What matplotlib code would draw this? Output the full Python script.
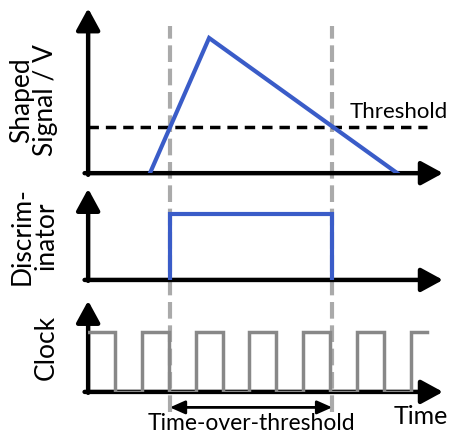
import numpy as np
import matplotlib
matplotlib.use('Agg')
import matplotlib.pyplot as plt
from matplotlib.lines import Line2D
from matplotlib import transforms

plt.rcParams['font.family'] = ['Lato', 'DejaVu Sans']

# time in units of one clock period
signal_t = [1.15, 2.25, 5.75]
signal_v = [0.0, 1.0, 0.0]
threshold = 0.34
threshold_span = [0.0, 6.3]
tot = [1.52, 4.54]          # threshold crossings
disc_level = 0.72
clock_edges = [0.0, 0.5, 1.0, 1.5, 2.0, 2.5, 3.0, 3.5, 4.0, 4.5, 5.0, 5.5, 6.0, 6.3]
clock_state = [1, 0, 1, 0, 1, 0, 1, 0, 1, 0, 1, 0, 1, 1]
clock_level = 0.66
t_max = 6.6

BLUE = '#3a5cc8'
fig = plt.figure(figsize=(4.52, 4.34), dpi=100)

def make_axes(rect):
    ax = fig.add_axes(rect)
    ax.set_xlim(0, t_max)
    ax.set_ylim(0, 1.0)
    ax.axis('off')
    ax.annotate('', xy=(1, 0), xytext=(-0.01, 0), xycoords='axes fraction',
                arrowprops=dict(arrowstyle='-|>,head_length=1.1,head_width=0.6',
                                mutation_scale=12, lw=3.2, color='k',
                                shrinkA=0, shrinkB=0))
    ax.annotate('', xy=(0, 1), xytext=(0, -0.01), xycoords='axes fraction',
                arrowprops=dict(arrowstyle='-|>,head_length=1.1,head_width=0.6',
                                mutation_scale=12, lw=3.2, color='k',
                                shrinkA=0, shrinkB=0))
    return ax

ax1 = make_axes([0.195, 0.601, 0.785, 0.38])
ax2 = make_axes([0.195, 0.355, 0.785, 0.21])
ax3 = make_axes([0.195, 0.097, 0.785, 0.21])
ax1.set_ylim(0, 1.22)

# dashed markers spanning all panels
tr = transforms.blended_transform_factory(ax1.transData, fig.transFigure)
for t in tot:
    fig.add_artist(Line2D([t, t], [0.05, 0.94], transform=tr, color='#aaaaaa',
                          lw=3, ls=(0, (4, 1.6)), zorder=0))

# shaped signal
ax1.plot(threshold_span, [threshold, threshold], color='k', lw=2.5,
         ls=(0, (3, 2)), zorder=2)
ax1.plot(signal_t, signal_v, color=BLUE, lw=3, zorder=3, solid_joinstyle='miter')
ax1.text(6.7, threshold + 0.04, 'Threshold', fontsize=16, ha='right', va='bottom')

# discriminator
ax2.plot([tot[0], tot[0], tot[1], tot[1]], [0, disc_level, disc_level, 0],
         color=BLUE, lw=3, zorder=3, solid_joinstyle='miter')

# clock
ax3.step(clock_edges, np.array(clock_state) * clock_level, where='post',
         color='#888888', lw=2.5, zorder=3, solid_joinstyle='miter')

# time-over-threshold arrow
ax3.annotate('', xy=(tot[1], -0.17), xytext=(tot[0], -0.17),
             xycoords=('data', 'axes fraction'),
             arrowprops=dict(arrowstyle='<|-|>,head_length=0.9,head_width=0.4',
                             mutation_scale=10, lw=2, color='k',
                             shrinkA=0, shrinkB=0), annotation_clip=False)
ax3.text(sum(tot) / 2, -0.345, 'Time-over-threshold', fontsize=16.5,
         ha='center', va='center', transform=ax3.get_xaxis_transform())
ax3.text(6.7, -0.27, 'Time', fontsize=18, ha='right', va='center',
         transform=ax3.get_xaxis_transform())

# y labels
fig.text(0.075, 0.77, 'Shaped\nSignal / V', rotation=90, fontsize=19,
         ha='center', va='center', linespacing=0.95)
fig.text(0.075, 0.456, 'Discrim-\ninator', rotation=90, fontsize=19,
         ha='center', va='center', linespacing=0.95)
fig.text(0.102, 0.2, 'Clock', rotation=90, fontsize=19,
         ha='center', va='center')

fig.savefig('out.png', dpi=100)
